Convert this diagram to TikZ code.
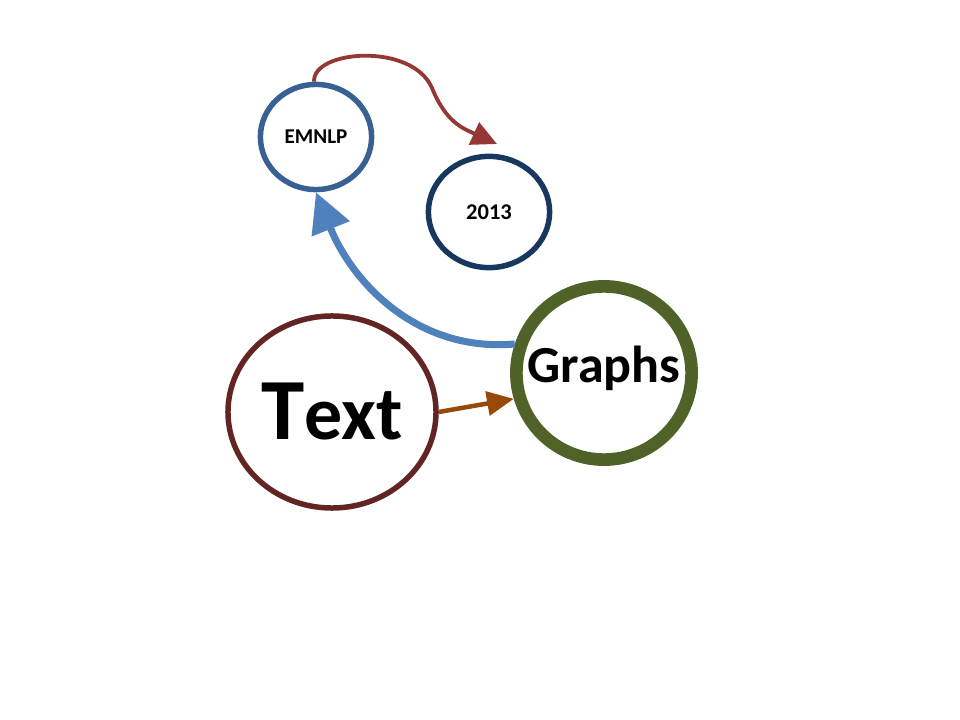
\documentclass[tikz,border=0pt]{standalone}
\usepackage{fontspec}
\setmainfont{Carlito}
\usetikzlibrary{arrows.meta,shapes.geometric}
\definecolor{emnlpblue}{RGB}{56,96,146}
\definecolor{yearnavy}{RGB}{23,55,94}
\definecolor{textrim}{RGB}{99,37,35}
\definecolor{graphrim}{RGB}{79,98,40}
\definecolor{linkred}{RGB}{149,55,53}
\definecolor{linkblue}{RGB}{79,129,189}
\definecolor{linkorange}{RGB}{152,72,7}
\tikzset{
  bubble/.style={ellipse,draw,line width=3.9pt,fill=white,inner sep=0pt,align=center,font=\bfseries},
  smallbubble/.style={bubble,minimum width=2.78cm,minimum height=2.63cm},
  bigbubble/.style={bubble,minimum width=5.2cm,minimum height=4.8cm},
  ringbubble/.style={bubble,line width=9pt,minimum width=4.38cm,minimum height=4.33cm},
  redlink/.style={draw=linkred,line width=2.7pt,-{Triangle[length=18pt,width=17pt]}},
  bluelink/.style={draw=linkblue,line width=5pt,-{Triangle[length=28pt,width=28pt]}},
  orangelink/.style={draw=linkorange,line width=3.2pt,-{Triangle[length=19pt,width=17pt]}}
}
\begin{document}
\begin{tikzpicture}[x=0.025cm,y=-0.025cm]
  \useasboundingbox[fill=white] (0,0) rectangle (960,720);
  \node[smallbubble,draw=emnlpblue,font=\bfseries\fontsize{15}{15}\selectfont] (emnlp) at (316,137) {EMNLP};
  \node[smallbubble,draw=yearnavy,minimum width=3.03cm,minimum height=2.78cm,font=\bfseries\fontsize{16}{16}\selectfont] (year) at (489,212) {2013};
  \node[bigbubble,draw=textrim,font=\bfseries\fontsize{54}{54}\selectfont] (text) at (332,412) {{\fontsize{62}{62}\selectfont T}ext};
  \node[ringbubble,draw=graphrim] (graphs) at (604,373) {};
  \node[font=\bfseries\fontsize{37}{37}\selectfont] (graphslabel) at (604,368) {Graphs};
  \draw[redlink] (emnlp.92) .. controls (312,50) and (412,42) .. (432,88)
    .. controls (446,122) and (462,128) .. (497,144);
  \draw[bluelink] (graphs.162) to[out=185,in=-68] (emnlp.south);
  \draw[orangelink] (text.east) -- (graphs.196);
\end{tikzpicture}
\end{document}
